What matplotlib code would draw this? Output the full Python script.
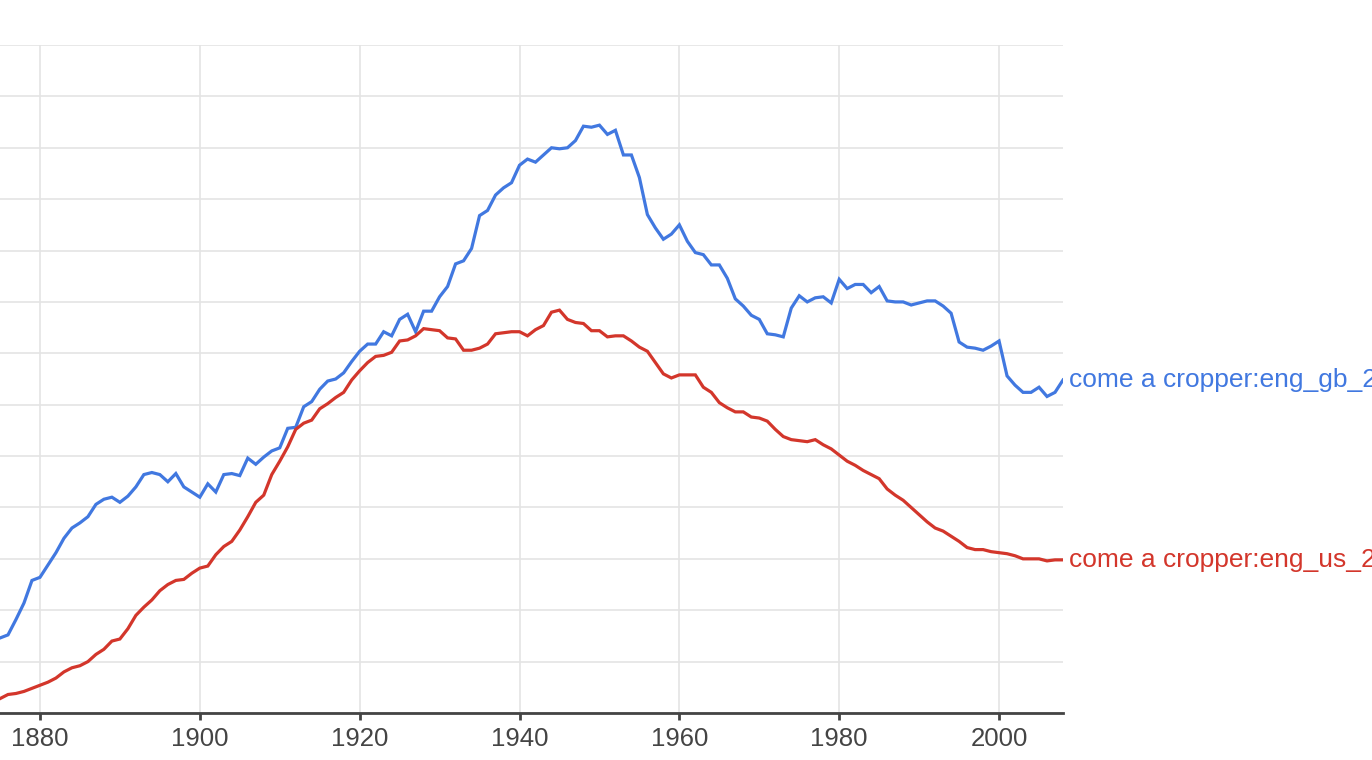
import numpy as np
import matplotlib.pyplot as plt

years = np.arange(1875, 2009)

gb_values = [
    0.73, 0.76, 0.91, 1.07, 1.29, 1.32, 1.44, 1.56, 1.70, 1.80,
    1.85, 1.91, 2.03, 2.08, 2.10, 2.05, 2.11, 2.20, 2.32, 2.34,
    2.32, 2.25, 2.33, 2.20, 2.15, 2.10, 2.23, 2.15, 2.32, 2.33,
    2.31, 2.48, 2.42, 2.49, 2.55, 2.58, 2.77, 2.78, 2.98, 3.03,
    3.15, 3.23, 3.25, 3.31, 3.42, 3.52, 3.59, 3.59, 3.71, 3.67,
    3.83, 3.88, 3.71, 3.91, 3.91, 4.05, 4.15, 4.37, 4.40, 4.52,
    4.84, 4.89, 5.04, 5.11, 5.16, 5.33, 5.39, 5.36, 5.43, 5.50,
    5.49, 5.50, 5.57, 5.71, 5.70, 5.72, 5.63, 5.67, 5.43, 5.43,
    5.21, 4.85, 4.72, 4.61, 4.66, 4.75, 4.59, 4.48, 4.46, 4.36,
    4.36, 4.23, 4.03, 3.96, 3.87, 3.83, 3.69, 3.68, 3.66, 3.94,
    4.06, 4.00, 4.04, 4.05, 3.99, 4.22, 4.13, 4.17, 4.17, 4.09,
    4.15, 4.01, 4.00, 4.00, 3.97, 3.99, 4.01, 4.01, 3.96, 3.89,
    3.61, 3.56, 3.55, 3.53, 3.57, 3.62, 3.28, 3.19, 3.12, 3.12,
    3.17, 3.08, 3.12, 3.24,
]

us_values = [
    0.14, 0.18, 0.19, 0.21, 0.24, 0.27, 0.30, 0.34, 0.40, 0.44,
    0.46, 0.50, 0.57, 0.62, 0.70, 0.72, 0.82, 0.95, 1.03, 1.10,
    1.19, 1.25, 1.29, 1.30, 1.36, 1.41, 1.43, 1.54, 1.62, 1.67,
    1.78, 1.91, 2.05, 2.12, 2.32, 2.45, 2.59, 2.76, 2.82, 2.85,
    2.96, 3.01, 3.07, 3.12, 3.24, 3.33, 3.41, 3.47, 3.48, 3.51,
    3.62, 3.63, 3.67, 3.74, 3.73, 3.72, 3.65, 3.64, 3.53, 3.53,
    3.55, 3.59, 3.69, 3.70, 3.71, 3.71, 3.67, 3.73, 3.77, 3.90,
    3.92, 3.83, 3.80, 3.79, 3.72, 3.72, 3.66, 3.67, 3.67, 3.62,
    3.56, 3.52, 3.41, 3.30, 3.26, 3.29, 3.29, 3.29, 3.17, 3.12,
    3.02, 2.97, 2.93, 2.93, 2.88, 2.87, 2.84, 2.76, 2.69, 2.66,
    2.65, 2.64, 2.66, 2.61, 2.57, 2.51, 2.45, 2.41, 2.36, 2.32,
    2.28, 2.18, 2.12, 2.07, 2.00, 1.93, 1.86, 1.80, 1.77, 1.72,
    1.67, 1.61, 1.59, 1.59, 1.57, 1.56, 1.55, 1.53, 1.50, 1.50,
    1.50, 1.48, 1.49, 1.49,
]

series = [
    ("come a cropper:eng_gb_2019", gb_values, "#4178e0"),
    ("come a cropper:eng_us_2019", us_values, "#d3362b"),
]

plt.rcParams['font.family'] = ['Liberation Sans', 'DejaVu Sans']

fig = plt.figure(figsize=(13.72, 7.60), dpi=100)
ax = fig.add_axes([0.0, 47 / 760, 1063 / 1372, 668 / 760])

for label, vals, color in series:
    ax.plot(years, vals, color=color, linewidth=2.3, solid_joinstyle='miter')
    ax.annotate(label, xy=(years[-1], vals[-1]), xytext=(4, 0),
                textcoords='offset points', va='center', ha='left',
                color=color, fontsize=19, annotation_clip=False)

ax.set_xlim(1875, 2008)
ax.set_ylim(0, 6.5)
ax.set_xticks(np.arange(1880, 2001, 20))
ax.set_yticks(np.arange(0, 6.51, 0.5))
ax.set_yticklabels([])
ax.grid(True, color="#e4e4e4", linewidth=1.2)
ax.set_axisbelow(True)

for side in ["top", "right", "left"]:
    ax.spines[side].set_visible(False)
ax.spines["bottom"].set_color("#444444")
ax.spines["bottom"].set_linewidth(2)
ax.tick_params(axis='x', colors="#444444", labelsize=18.5, length=5, width=2, pad=5)
ax.tick_params(axis='y', length=0)
for lbl in ax.get_xticklabels():
    lbl.set_color("#444444")

plt.savefig("out.png", dpi=100)
